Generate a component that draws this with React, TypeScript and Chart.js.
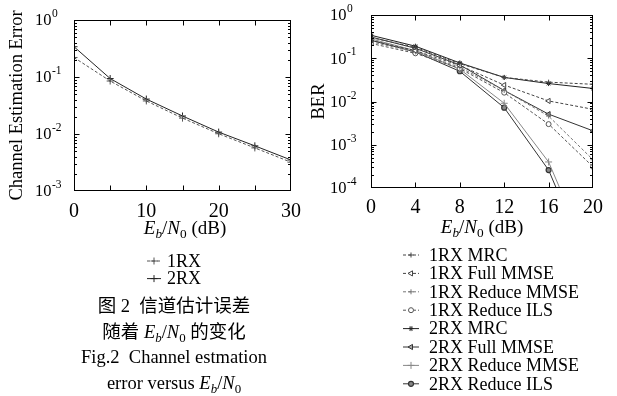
import React, { useEffect, useRef } from 'react';
import { Chart, registerables } from 'chart.js';

Chart.register(...registerables);

const FONT = '"Liberation Serif", "Times New Roman", serif';

// ---------- Left chart data (Channel estimation error) ----------
const snrLeft = [0, 5, 10, 15, 20, 25, 30];
const err1RX = [0.22, 0.085, 0.038, 0.019, 0.0101, 0.0057, 0.0032];
const err2RX = [0.34, 0.094, 0.041, 0.0207, 0.0108, 0.0062, 0.0035];
const legendLeft = ['1RX', '2RX'];
const yExpLeft = [0, -1, -2, -3];

// ---------- Right chart data (BER) ----------
const snrRight = [0, 4, 8, 12, 16, 20];
const ber1RXMRC = [0.30, 0.18, 0.075, 0.036, 0.028, 0.025];
const ber1RXFull = [0.26, 0.15, 0.068, 0.024, 0.0103, 0.0066];
const ber1RXRedMMSE = [0.24, 0.14, 0.062, 0.018, 0.0046, 0.00045];
const ber1RXRedILS = [0.22, 0.13, 0.058, 0.016, 0.0030, 0.00031];
const ber2RXMRC = [0.34, 0.19, 0.078, 0.036, 0.026, 0.020];
const ber2RXFull = [0.31, 0.17, 0.070, 0.018, 0.0051, 0.0021];
const ber2RXRedMMSE = [0.28, 0.15, 0.056, 0.0091, 0.0004, 0.0000016];
const ber2RXRedILS = [0.26, 0.14, 0.050, 0.0072, 0.00026, 0.000001];
const legendRight = [
  '1RX MRC', '1RX Full MMSE', '1RX Reduce MMSE', '1RX Reduce ILS',
  '2RX MRC', '2RX Full MMSE', '2RX Reduce MMSE', '2RX Reduce ILS',
];
const yExpRight = [0, -1, -2, -3, -4];

type Sty = {
  color: string; dash: number[]; pointStyle: string; radius: number;
  rotation: number; fill: string; pw: number;
};

const DOT = [3, 2];
const stylesLeft: Sty[] = [
  { color: '#555', dash: DOT, pointStyle: 'cross', radius: 3.5, rotation: 0, fill: '#fff', pw: 1 },
  { color: '#222', dash: [], pointStyle: 'cross', radius: 3.5, rotation: 0, fill: '#fff', pw: 1 },
];
const stylesRight: Sty[] = [
  { color: '#444', dash: DOT, pointStyle: 'cross', radius: 2.5, rotation: 0, fill: '#fff', pw: 1 },
  { color: '#444', dash: DOT, pointStyle: 'triangle', radius: 3, rotation: -90, fill: '#fff', pw: 1 },
  { color: '#777', dash: DOT, pointStyle: 'cross', radius: 2.5, rotation: 0, fill: '#fff', pw: 1 },
  { color: '#555', dash: DOT, pointStyle: 'circle', radius: 2.5, rotation: 0, fill: '#fff', pw: 1 },
  { color: '#222', dash: [], pointStyle: 'star', radius: 2.5, rotation: 0, fill: '#222', pw: 1 },
  { color: '#333', dash: [], pointStyle: 'triangle', radius: 3, rotation: -90, fill: '#aaa', pw: 1 },
  { color: '#888', dash: [], pointStyle: 'cross', radius: 3.5, rotation: 0, fill: '#fff', pw: 1 },
  { color: '#333', dash: [], pointStyle: 'circle', radius: 2.5, rotation: 0, fill: '#888', pw: 1.2 },
];

function drawMarker(ctx: CanvasRenderingContext2D, s: Sty, x: number, y: number) {
  const r = s.radius;
  ctx.save();
  ctx.setLineDash([]);
  ctx.lineWidth = s.pw;
  ctx.strokeStyle = s.color;
  ctx.fillStyle = s.fill;
  ctx.beginPath();
  if (s.pointStyle === 'cross' || s.pointStyle === 'star') {
    ctx.moveTo(x - r, y); ctx.lineTo(x + r, y);
    ctx.moveTo(x, y - r); ctx.lineTo(x, y + r);
    if (s.pointStyle === 'star') {
      const d = r * Math.SQRT1_2;
      ctx.moveTo(x - d, y - d); ctx.lineTo(x + d, y + d);
      ctx.moveTo(x - d, y + d); ctx.lineTo(x + d, y - d);
    }
    ctx.stroke();
  } else if (s.pointStyle === 'circle') {
    ctx.arc(x, y, r, 0, Math.PI * 2);
    ctx.fill(); ctx.stroke();
  } else if (s.pointStyle === 'triangle') {
    let rad = (s.rotation * Math.PI) / 180;
    ctx.moveTo(x + Math.sin(rad) * r, y - Math.cos(rad) * r);
    rad += (2 * Math.PI) / 3;
    ctx.lineTo(x + Math.sin(rad) * r, y - Math.cos(rad) * r);
    rad += (2 * Math.PI) / 3;
    ctx.lineTo(x + Math.sin(rad) * r, y - Math.cos(rad) * r);
    ctx.closePath();
    ctx.fill(); ctx.stroke();
  }
  ctx.restore();
}

type Deco = {
  exps: number[]; labelX: number; markStep: number;
  legendLabels: string[]; styles: Sty[];
  legY0: number; legDy: number; segX0: number; segX1: number; textX: number;
};

function decoPlugin(d: Deco) {
  return {
    id: 'deco',
    afterDraw(chart: any) {
      const { ctx, chartArea: a, scales } = chart;
      const xs = scales.x;
      const ys = scales.y;
      ctx.save();
      ctx.strokeStyle = '#000';
      ctx.lineWidth = 1;
      ctx.setLineDash([]);
      const L = Math.round(a.left) + 0.5, R = Math.round(a.right) - 0.5;
      const T = Math.round(a.top) + 0.5, B = Math.round(a.bottom) - 0.5;
      ctx.strokeRect(L, T, R - L, B - T);
      ctx.beginPath();
      // x tick marks (inward, top & bottom)
      for (let v = xs.min + d.markStep; v < xs.max - 1e-9; v += d.markStep) {
        const px = Math.round(xs.getPixelForValue(v)) + 0.5;
        ctx.moveTo(px, B); ctx.lineTo(px, B - 5);
        ctx.moveTo(px, T); ctx.lineTo(px, T + 5);
      }
      // y tick marks (log major/minor, inward, left & right)
      const minE = Math.min(...d.exps);
      for (let k = minE; k <= 0; k++) {
        const py = Math.round(ys.getPixelForValue(Math.pow(10, k))) + 0.5;
        if (k !== 0 && k !== minE) {
          ctx.moveTo(L, py); ctx.lineTo(L + 5, py);
          ctx.moveTo(R, py); ctx.lineTo(R - 5, py);
        }
        if (k < 0) {
          for (let m = 2; m <= 9; m++) {
            const pm = Math.round(ys.getPixelForValue(m * Math.pow(10, k))) + 0.5;
            ctx.moveTo(L, pm); ctx.lineTo(L + 2.5, pm);
            ctx.moveTo(R, pm); ctx.lineTo(R - 2.5, pm);
          }
        }
      }
      ctx.stroke();

      // y tick labels 10^k
      ctx.fillStyle = '#000';
      ctx.textBaseline = 'middle';
      ctx.textAlign = 'left';
      d.exps.forEach((k) => {
        const py = ys.getPixelForValue(Math.pow(10, k));
        ctx.font = `16.5px ${FONT}`;
        ctx.fillText('10', d.labelX, py + 1);
        const w = ctx.measureText('10').width;
        ctx.font = `11.5px ${FONT}`;
        ctx.fillText(k === 0 ? '0' : `-${-k}`, d.labelX + w + 0.5, py - 6);
      });

      // legend
      d.legendLabels.forEach((label, i) => {
        const s = d.styles[i];
        const y = d.legY0 + i * d.legDy;
        ctx.save();
        ctx.strokeStyle = s.color;
        ctx.lineWidth = 1;
        ctx.setLineDash(s.dash);
        ctx.beginPath();
        ctx.moveTo(d.segX0, y);
        ctx.lineTo(d.segX1, y);
        ctx.stroke();
        ctx.restore();
        drawMarker(ctx, s, (d.segX0 + d.segX1) / 2, y);
        ctx.fillStyle = '#000';
        ctx.font = `18px ${FONT}`;
        ctx.textBaseline = 'middle';
        ctx.fillText(label, d.textX, y + 1);
      });
      ctx.restore();
    },
  };
}

function makeConfig(p: {
  snr: number[]; series: number[][]; labels: string[]; styles: Sty[];
  xMax: number; xStep: number; yMinExp: number;
  W: number; H: number; left: number; top: number; bottom: number; right: number;
  yTitle: string; yTitlePad: number; tickPad: number; deco: Deco;
}): any {
  return {
    type: 'line',
    data: {
      datasets: p.series.map((vals, i) => {
        const s = p.styles[i];
        return {
          label: p.labels[i],
          data: p.snr.map((x, j) => ({ x, y: vals[j] })),
          borderColor: s.color,
          borderWidth: 1,
          borderDash: s.dash,
          backgroundColor: s.fill,
          pointStyle: s.pointStyle,
          pointRadius: s.radius,
          pointRotation: s.rotation,
          pointBorderColor: s.color,
          pointBackgroundColor: s.fill,
          pointBorderWidth: s.pw,
          tension: 0,
          fill: false,
        };
      }),
    },
    options: {
      animation: false,
      responsive: false,
      devicePixelRatio: 1,
      layout: { padding: { left: 0, top: p.top, right: p.W - p.right, bottom: 0 } },
      plugins: { legend: { display: false }, tooltip: { enabled: false } },
      scales: {
        x: {
          type: 'linear', min: 0, max: p.xMax,
          ticks: { stepSize: p.xStep, font: { family: FONT, size: 20 }, color: '#000', padding: p.tickPad, maxRotation: 0, autoSkip: false },
          grid: { display: false, drawTicks: false },
          border: { display: false },
          afterFit: (s: any) => { s.height = p.H - p.bottom; },
        },
        y: {
          type: 'logarithmic', min: Math.pow(10, p.yMinExp), max: 1,
          ticks: { display: false },
          grid: { display: false, drawTicks: false },
          border: { display: false },
          title: {
            display: true, text: p.yTitle, color: '#000',
            font: { family: FONT, size: 18.5, lineHeight: 1 },
            padding: { top: p.yTitlePad, bottom: 0 },
          },
          afterFit: (s: any) => { s.width = p.left; },
        },
      },
    },
    plugins: [decoPlugin(p.deco)],
  };
}

const subStyle: React.CSSProperties = { fontSize: '0.7em', verticalAlign: '-0.3em', lineHeight: 0 };
const EbN0 = () => (
  <>
    <i>E</i><sub style={subStyle}><i>b</i></sub>/<i>N</i><sub style={subStyle}>0</sub>
  </>
);

export default function App() {
  const leftRef = useRef<HTMLCanvasElement>(null);
  const rightRef = useRef<HTMLCanvasElement>(null);

  useEffect(() => {
    const c1 = new Chart(leftRef.current!, makeConfig({
      snr: snrLeft, series: [err1RX, err2RX], labels: legendLeft, styles: stylesLeft,
      xMax: 30, xStep: 10, yMinExp: -3,
      W: 310, H: 290, left: 74, top: 20, bottom: 191, right: 296,
      yTitle: 'Channel Estimation Error', yTitlePad: 8, tickPad: 9,
      deco: {
        exps: yExpLeft, labelX: 35, markStep: 5,
        legendLabels: legendLeft, styles: stylesLeft,
        legY0: 261, legDy: 17.6, segX0: 147, segX1: 161, textX: 167,
      },
    }));
    const c2 = new Chart(rightRef.current!, makeConfig({
      snr: snrRight,
      series: [ber1RXMRC, ber1RXFull, ber1RXRedMMSE, ber1RXRedILS, ber2RXMRC, ber2RXFull, ber2RXRedMMSE, ber2RXRedILS],
      labels: legendRight, styles: stylesRight,
      xMax: 20, xStep: 4, yMinExp: -4,
      W: 307, H: 396, left: 61, top: 15, bottom: 188, right: 283,
      yTitle: 'BER', yTitlePad: 0, tickPad: 8,
      deco: {
        exps: yExpRight, labelX: 20, markStep: 4,
        legendLabels: legendRight, styles: stylesRight,
        legY0: 255, legDy: 18.4, segX0: 93, segX1: 109, textX: 119,
      },
    }));
    return () => { c1.destroy(); c2.destroy(); };
  }, []);

  const abs = (l: number, t: number, w: number, h: number): React.CSSProperties => ({
    position: 'absolute', left: l, top: t, width: w, height: h,
  });

  return (
    <div style={{ position: 'absolute', left: 0, top: 0, width: 617, height: 396, background: '#fff', fontFamily: FONT, color: '#000', overflow: 'hidden' }}>
      <canvas ref={leftRef} width={310} height={290} style={{ ...abs(0, 0, 310, 290), display: 'block' }} />
      <canvas ref={rightRef} width={307} height={396} style={{ ...abs(310, 0, 307, 396), display: 'block' }} />
      <div style={{ ...abs(85, 216, 200, 24), textAlign: 'center', fontSize: 19, lineHeight: '24px' }}>
        <EbN0 />&nbsp;(dB)
      </div>
      <div style={{ ...abs(382, 215, 200, 24), textAlign: 'center', fontSize: 19, lineHeight: '24px' }}>
        <EbN0 />&nbsp;(dB)
      </div>
      <div style={{ ...abs(24, 294, 300, 102), textAlign: 'center', fontSize: 18.5, lineHeight: '25.5px', fontFamily: `${FONT}, "Noto Sans CJK SC"` }}>
        <div>图 2&nbsp; 信道估计误差</div>
        <div>随着 <EbN0 /> 的变化</div>
        <div>Fig.2&nbsp; Channel estmation</div>
        <div>error versus <EbN0 /></div>
      </div>
    </div>
  );
}
